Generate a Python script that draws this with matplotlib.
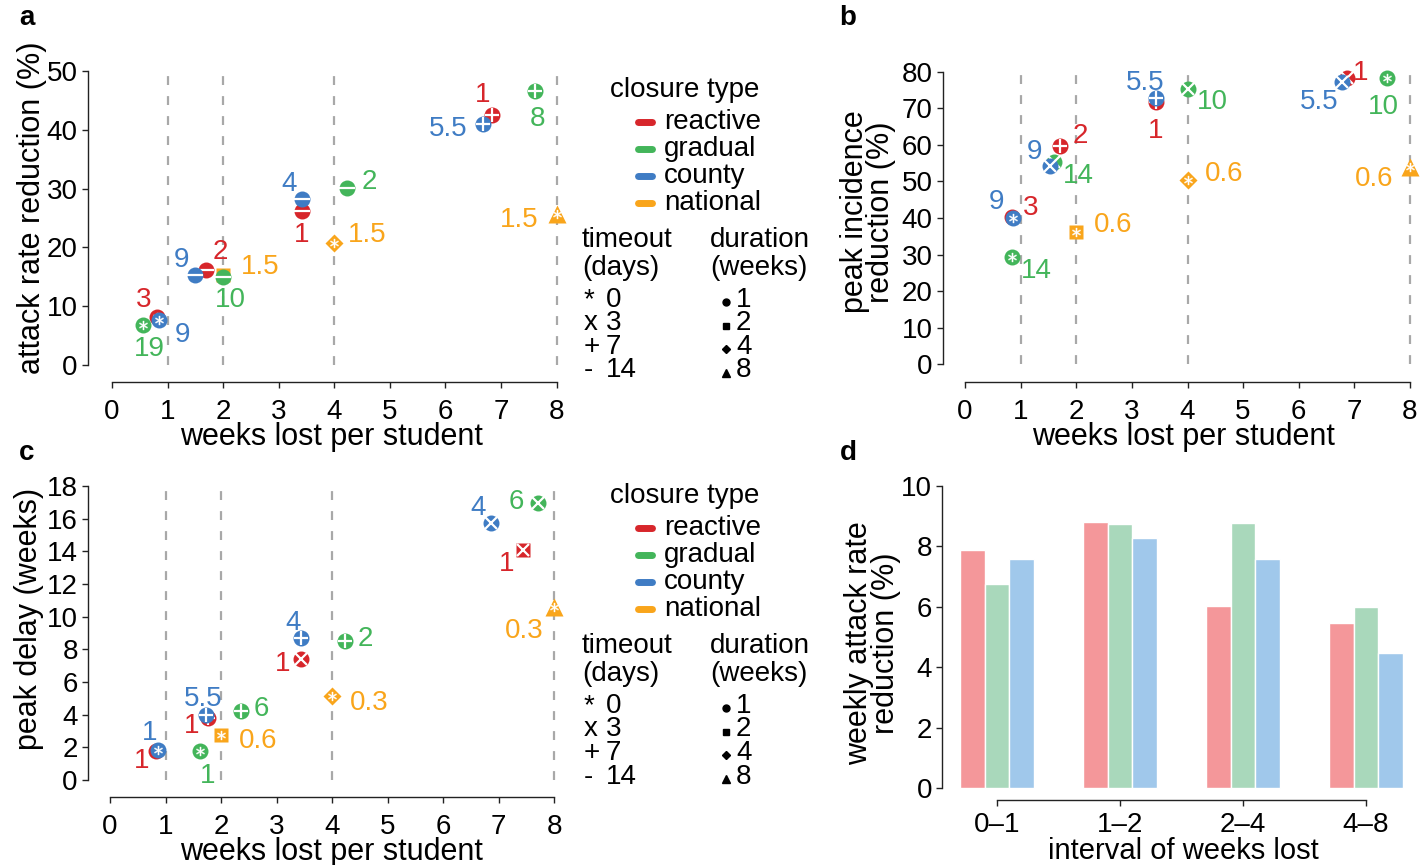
import numpy as np
import matplotlib.pyplot as plt
from matplotlib.lines import Line2D

plt.rcParams['font.family'] = ['Liberation Sans', 'DejaVu Sans']

W, H = 1427, 865

# ---- data ----
closure_names = ['reactive', 'gradual', 'county', 'national']
closure_colors = {'reactive': '#d7262b', 'gradual': '#43b55a',
                  'county': '#3f7cc4', 'national': '#f9a51b'}
draw_order = {'national': 3, 'reactive': 4, 'gradual': 5, 'county': 6}

# panel a: attack rate reduction
a_type = ['gradual', 'reactive', 'county', 'county', 'reactive', 'national', 'gradual', 'county',
          'reactive', 'gradual', 'national', 'reactive', 'county', 'gradual', 'national']
a_weeks = [0.55, 0.81, 0.85, 1.49, 1.70, 2.0, 2.0, 3.42, 3.42, 4.22, 4.0, 6.83, 6.68, 7.61, 8.0]
a_value = [6.8, 8.2, 7.65, 15.3, 16.2, 15.3, 15.0, 28.2, 26.2, 30.05, 20.8, 42.5, 41.0, 46.6, 25.7]
a_timeout = [0, 0, 0, 14, 14, 0, 14, 14, 14, 14, 0, 7, 7, 7, 0]
a_duration = [1, 1, 1, 1, 1, 2, 1, 1, 1, 1, 4, 1, 1, 1, 8]
a_label = ['19', '3', '9', '9', '2', '1.5', '10', '4', '1', '2', '1.5', '1', '5.5', '8', '1.5']

# panel b: peak incidence reduction
b_type = ['reactive', 'county', 'gradual', 'reactive', 'gradual', 'county', 'national', 'reactive',
          'county', 'gradual', 'national', 'reactive', 'county', 'gradual', 'national']
b_weeks = [0.84, 0.86, 0.84, 1.71, 1.60, 1.53, 2.0, 3.43, 3.43, 4.01, 4.0, 6.86, 6.77, 7.59, 8.0]
b_value = [40.2, 39.9, 29.4, 59.7, 55.4, 54.2, 36.1, 71.8, 72.7, 75.2, 50.4, 78.2, 77.3, 78.2, 54.0]
b_timeout = [0, 0, 0, 7, 3, 3, 0, 7, 7, 3, 0, 3, 3, 0, 0]
b_duration = [1, 1, 1, 1, 1, 1, 2, 1, 1, 1, 4, 1, 1, 1, 8]
b_label = ['3', '9', '14', '2', '14', '9', '0.6', '1', '5.5', '10', '0.6', '1', '5.5', '10', '0.6']

# panel c: peak delay
c_type = ['county', 'reactive', 'gradual', 'national', 'county', 'reactive', 'gradual', 'county',
          'reactive', 'gradual', 'national', 'county', 'gradual', 'reactive', 'national']
c_weeks = [0.86, 0.83, 1.62, 2.0, 1.72, 1.76, 2.35, 3.44, 3.44, 4.24, 4.0, 6.86, 7.71, 7.43, 8.0]
c_value = [1.84, 1.78, 1.78, 2.76, 3.98, 3.82, 4.24, 8.68, 7.41, 8.53, 5.14, 15.72, 16.98, 14.08, 10.61]
c_timeout = [0, 0, 0, 0, 7, 7, 7, 7, 3, 7, 0, 3, 3, 3, 0]
c_duration = [1, 1, 1, 2, 1, 1, 1, 1, 1, 1, 4, 1, 1, 2, 8]
c_label = ['1', '1', '1', '0.6', '5.5', '1', '6', '4', '1', '2', '0.3', '4', '6', '1', '0.3']

# panel d: weekly attack rate reduction by interval of weeks lost
d_intervals = ['0\u20131', '1\u20132', '2\u20134', '4\u20138']
d_reactive = [7.88, 8.82, 6.03, 5.48]
d_gradual = [6.75, 8.74, 8.78, 5.99]
d_county = [7.59, 8.28, 7.59, 4.47]
bar_colors = ['#f4979a', '#a9d8bb', '#a0c8eb']

# label offsets (pixels, right / up) for the point annotations
a_offset = [(7, -24), (-13, 17), (23, -15), (-13, 15), (14, 18), (37, 8), (7, -23), (-13, 15),
            (0, -24), (23, 6), (33, 8), (-9, 20), (-35, -5), (3, -28), (-37, -6)]
b_offset = [(19, 9), (-16, 16), (25, -14), (20, 10), (24, -14), (-16, 14), (37, 7), (0, -29),
            (-11, 15), (24, -13), (37, 6), (14, 5), (-22, -20), (-4, -29), (-36, -12)]
c_offset = [(-8, 17), (-14, -10), (8, -25), (37, -6), (-2, 16), (-16, -8), (21, 2), (-8, 15),
            (-18, -5), (20, 2), (37, -7), (-13, 15), (-22, 1), (-16, -14), (-30, -24)]

duration_marker = {1: 'o', 2: 's', 4: 'D', 8: '^'}
duration_size = {1: 11.5, 2: 10.5, 4: 9.5, 8: 13.5}
timeout_marker = {0: '$\\ast$', 3: 'x', 7: '+', 14: '_'}
timeout_size = {0: 6.5, 3: 8, 7: 10.5, 14: 11.5}
timeout_width = {0: 0.2, 3: 1.6, 7: 1.6, 14: 1.6}

FS = 20


def make_axes(spine_left, right, top, spine_bottom, x0_px, x_per, y0_px, y_per):
    ax = fig.add_axes([spine_left / W, 1 - spine_bottom / H,
                       (right - spine_left) / W, (spine_bottom - top) / H])
    ax.set_xlim((spine_left - x0_px) / x_per, (right - x0_px) / x_per)
    ax.set_ylim((y0_px - spine_bottom) / y_per, (y0_px - top) / y_per)
    for s in ['top', 'right']:
        ax.spines[s].set_visible(False)
    for s in ['left', 'bottom']:
        ax.spines[s].set_linewidth(1.0)
        ax.spines[s].set_color('#222222')
    ax.tick_params(direction='out', length=4, width=1, labelsize=FS, pad=3, colors='#222222',
                   labelcolor='black')
    ax.tick_params(axis='x', pad=8)
    ax.set_facecolor('none')
    return ax


def scatter_panel(ax, types, weeks, values, timeouts, durations, labels, offsets, ymax):
    ax.vlines([1, 2, 4, 8], 0, ymax, colors='#a8a8a8', linestyles=(0, (4, 5)), lw=1.6, zorder=1)
    for t, x, y, to, du, lab, off in zip(types, weeks, values, timeouts, durations, labels, offsets):
        col = closure_colors[t]
        z = draw_order[t]
        ax.plot(x, y, marker=duration_marker[du], ms=duration_size[du], color=col,
                mec='none', zorder=z, clip_on=False)
        ax.plot(x, y, marker=timeout_marker[to], ms=timeout_size[to], color='white',
                mew=timeout_width[to], zorder=z + 0.1, clip_on=False)
        ax.annotate(lab, (x, y), xytext=off, textcoords='offset pixels', ha='center',
                    va='center', color=col, fontsize=FS, zorder=10)
    ax.spines['bottom'].set_bounds(0, 8)
    ax.set_xticks(range(9))
    ax.spines['left'].set_bounds(0, ymax)
    ax.set_xlabel('weeks lost per student', fontsize=22, labelpad=-2)


def draw_legend(yoff):
    def fx(x):
        return x / W

    def fy(y):
        return 1 - (y + yoff) / H

    fig.text(fx(685), fy(90), 'closure type', ha='center', va='center', fontsize=FS)
    for i, name in enumerate(closure_names):
        y = 122 + 26.9 * i
        fig.add_artist(Line2D([fx(638), fx(652)], [fy(y), fy(y)], color=closure_colors[name],
                              lw=5, solid_capstyle='round'))
        fig.text(fx(664), fy(y), name, ha='left', va='center', fontsize=FS)
    fig.text(fx(582), fy(240), 'timeout', ha='left', va='center', fontsize=FS)
    fig.text(fx(582), fy(268), '(days)', ha='left', va='center', fontsize=FS)
    fig.text(fx(710), fy(240), 'duration', ha='left', va='center', fontsize=FS)
    fig.text(fx(710), fy(268), '(weeks)', ha='left', va='center', fontsize=FS)
    rows = [300, 323.5, 347, 370.5]
    for y, sym, lab in zip(rows, ['*', 'x', '+', '-'], ['0', '3', '7', '14']):
        fig.text(fx(584), fy(y), sym, ha='left', va='center', fontsize=FS)
        fig.text(fx(606), fy(y), lab, ha='left', va='center', fontsize=FS)
    for y, m, s, lab in zip(rows, ['o', 's', 'D', '^'], [5, 5, 4.5, 6], ['1', '2', '4', '8']):
        fig.add_artist(Line2D([fx(726)], [fy(y + 2)], marker=m, ms=s, color='black', lw=0))
        fig.text(fx(736), fy(y), lab, ha='left', va='center', fontsize=FS)


fig = plt.figure(figsize=(W / 100, H / 100), dpi=100)

# panel a
ax_a = make_axes(87.5, 575, 60, 382, 112, 55.57, 365, 5.88)
scatter_panel(ax_a, a_type, a_weeks, a_value, a_timeout, a_duration, a_label, a_offset, 50)
ax_a.set_yticks(range(0, 51, 10))
ax_a.set_ylabel('attack rate reduction (%)', fontsize=22, labelpad=0)
ax_a.yaxis.label.set_y(0.54)
draw_legend(0)

# panel b
ax_b = make_axes(942.5, 1425, 60, 382, 965.1, 55.6, 364.3, 3.657)
scatter_panel(ax_b, b_type, b_weeks, b_value, b_timeout, b_duration, b_label, b_offset, 80)
ax_b.set_yticks(range(0, 81, 10))
ax_b.set_ylabel('peak incidence\nreduction (%)', fontsize=22, labelpad=4, linespacing=0.85)
ax_b.yaxis.label.set_y(0.528)

# panel c
ax_c = make_axes(87.5, 575, 476, 797, 110, 55.54, 780, 16.33)
scatter_panel(ax_c, c_type, c_weeks, c_value, c_timeout, c_duration, c_label, c_offset, 18)
ax_c.set_yticks(range(0, 19, 2))
ax_c.set_ylabel('peak delay (weeks)', fontsize=22, labelpad=2)
ax_c.yaxis.label.set_y(0.555)
draw_legend(406)

# panel d
ax_d = make_axes(941.7, 1425, 476, 800, 960 + 0.5 * 24.6, 24.6, 788.3, 30.23)
grp = np.arange(len(d_intervals)) * 5
for j, (vals, col) in enumerate(zip([d_reactive, d_gradual, d_county], bar_colors)):
    ax_d.bar(grp + j, vals, width=1, color=col, edgecolor='white', lw=1)
ax_d.set_xticks(grp + 1)
ax_d.set_xticklabels(d_intervals)
ax_d.tick_params(axis='x', pad=5)
ax_d.spines['bottom'].set_bounds(1, 16)
ax_d.set_yticks(range(0, 11, 2))
ax_d.spines['left'].set_bounds(0, 10)
ax_d.set_xlabel('interval of weeks lost', fontsize=21, labelpad=-1)
ax_d.set_ylabel('weekly attack rate\nreduction (%)', fontsize=22, labelpad=0, linespacing=0.85)
ax_d.yaxis.label.set_y(0.485)

for lab, x, y in [('a', 27, 18), ('b', 848, 18), ('c', 27, 453), ('d', 848, 453)]:
    fig.text(x / W, 1 - y / H, lab, ha='center', va='center', fontsize=20, fontweight='bold')

fig.savefig('out.png', dpi=100)
